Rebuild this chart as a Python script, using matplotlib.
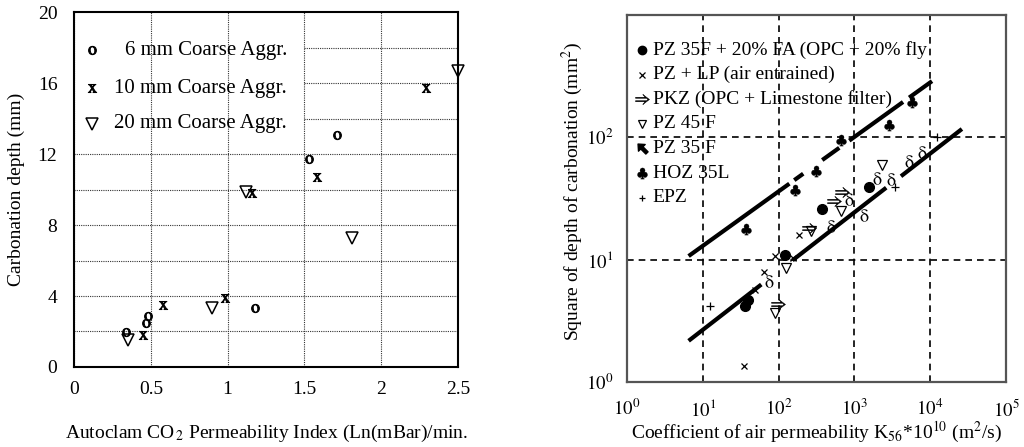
import numpy as np
import matplotlib
matplotlib.use("Agg")
import matplotlib.pyplot as plt
from matplotlib.path import Path

plt.rcParams['font.family'] = ['Liberation Serif', 'DejaVu Serif']
plt.rcParams['mathtext.fontset'] = 'stix'

# ---- left panel data (Autoclam index vs carbonation depth)
agg6_x = [0.34, 0.48, 0.47, 1.18, 1.53, 1.71]
agg6_y = [1.97, 2.9, 2.46, 3.3, 11.7, 13.1]
agg10_x = [0.45, 0.58, 0.98, 1.16, 1.58, 2.29]
agg10_y = [1.8, 3.5, 3.9, 9.8, 10.7, 15.7]
agg20_x = [0.35, 0.9, 1.12, 1.81, 2.5]
agg20_y = [1.52, 3.32, 9.86, 7.27, 16.7]
left_labels = ["6 mm Coarse Aggr.", "10 mm Coarse Aggr.", "20 mm Coarse Aggr."]

# ---- right panel data (air permeability vs square of carbonation depth)
fa_x = [1574, 379, 120, 39.1, 35.7]
fa_y = [39.2, 26.0, 10.9, 4.7, 4.15]
lp_x = [189, 153, 91, 63.5, 48.3, 34.6]
lp_y = [15.8, 10.3, 10.7, 7.9, 5.6, 1.34]
pkz_x = [695, 545, 256, 97]
pkz_y = [35.9, 30.3, 18.2, 4.33]
pz45_x = [2336, 675, 272, 127, 88.6]
pz45_y = [59, 25.1, 17.2, 8.5, 3.66]
pz35_x = [7850, 5290, 3070, 2010, 1355, 860, 498, 73.9]
pz35_y = [76, 64, 45.6, 46.4, 23.4, 31.3, 18.8, 6.7]
hoz_x = [5750, 2830, 668, 313, 167, 36.8]
hoz_y = [194, 126, 95, 53, 37, 17.8]
epz_x = [12400, 3460, 12.6]
epz_y = [100, 39.6, 4.15]
right_labels = ["PZ 35F + 20% FA (OPC + 20% fly", "PZ + LP (air entrained)",
                "PKZ (OPC + Limestone filter)", "PZ 45 F", "PZ 35 F", "HOZ 35L", "EPZ"]

# trend lines (end points)
upper_x = [6.5, 10600]
upper_y = [10.7, 288]
lower_x = [6.5, 26300]
lower_y = [2.17, 117]

fig = plt.figure(figsize=(10.24, 4.47), dpi=100)

# ================= left panel
ax1 = fig.add_axes([0.0723, 0.179, 0.375, 0.794])
ax1.set_xlim(0, 2.5)
ax1.set_ylim(0, 20)
ax1.set_xticks([0, 0.5, 1, 1.5, 2, 2.5])
ax1.set_xticklabels(["0", "0.5", "1", "1.5", "2", "2.5"])
ax1.set_yticks([0, 4, 8, 12, 16, 20])
ax1.tick_params(length=0, labelsize=14, pad=10)
ax1.tick_params(axis='y', pad=12)
ax1.grid(axis='x', color='#333333', linestyle=(0, (1, 1)), linewidth=0.8)
for yy in [2, 4, 6, 8, 10, 12]:
    ax1.axhline(yy, color='#333333', linestyle=(0, (1, 1)), linewidth=0.8, zorder=0.5)
for yy in [14, 16, 18]:
    ax1.axhline(yy, xmin=0.6, color='#333333', linestyle=(0, (1, 1)), linewidth=0.8, zorder=0.5)
for s in ax1.spines.values():
    s.set_linewidth(1.5)

left_series = [(agg6_x, agg6_y, dict(marker=r'$\mathrm{o}$', ms=6, color='black', mew=0.7)),
               (agg10_x, agg10_y, dict(marker=r'$\mathrm{x}$', ms=6, color='black', mew=0.7)),
               (agg20_x, agg20_y, dict(marker='v', ms=9, mfc='none', mec='black', mew=1.1))]
leg_y = [0.893, 0.786, 0.685]
for (xs, ys, st), lab, ly in zip(left_series, left_labels, leg_y):
    ax1.plot(xs, ys, linestyle='none', clip_on=False, **st)
    ax1.plot([0.047], [ly], linestyle='none', transform=ax1.transAxes, **st)
    ax1.text(0.555, ly, lab, transform=ax1.transAxes, ha='right', va='center', fontsize=15)

ax1.set_ylabel("Carbonation depth (mm)", fontsize=14)
ax1.yaxis.set_label_coords(-0.128, 0.5)
ax1.set_xlabel("Autoclam CO$_{\\,2}$ Permeability Index (Ln(mBar)/min.", fontsize=14, labelpad=18)

# ================= right panel
ax2 = fig.add_axes([0.6123, 0.1454, 0.370, 0.821])
ax2.set_xscale('log')
ax2.set_yscale('log')
ax2.set_xlim(1, 1e5)
ax2.set_ylim(1, 1000)
ax2.set_xticks([1, 10, 100, 1000, 1e4, 1e5])
ax2.set_xticklabels(["$10^{0}$", "$10^{1}$", "$10^{2}$", "$10^{3}$", "$10^{4}$", "$10^{5}$"])
ax2.set_yticks([1, 10, 100])
ax2.set_yticklabels(["$10^{0}$", "$10^{1}$", "$10^{2}$"])
ax2.minorticks_off()
ax2.tick_params(length=0, labelsize=13.5)
ax2.tick_params(axis='x', pad=12)
ax2.tick_params(axis='y', pad=10)
for xx in [10, 100, 1000, 1e4]:
    ax2.axvline(xx, color='black', linestyle=(0, (4, 3)), linewidth=1.2, zorder=0.5)
for yy in [10, 100]:
    ax2.axhline(yy, color='black', linestyle=(0, (4, 3)), linewidth=1.2, zorder=0.5)
for s in ax2.spines.values():
    s.set_linewidth(1.6)
    s.set_color('#555555')


def log_line(ax, xs, ys, pieces):
    lx0, lx1 = np.log10(xs)
    ly0, ly1 = np.log10(ys)
    for a, b in pieces:
        ax.plot(10 ** np.array([lx0 + a * (lx1 - lx0), lx0 + b * (lx1 - lx0)]),
                10 ** np.array([ly0 + a * (ly1 - ly0), ly0 + b * (ly1 - ly0)]),
                color='black', linewidth=3, solid_capstyle='butt')


log_line(ax2, upper_x, upper_y, [(0, 0.414), (0.434, 0.471), (0.549, 0.619), (0.66, 0.881), (0.906, 1)])
log_line(ax2, lower_x, lower_y, [(0, 0.266), (0.38, 0.723), (0.777, 1)])

# NW arrow for the legend entry of PZ 35 F
arrow = np.array([(0, 1), (0.75, 0.15), (0.25, 0.15), (0.25, -1), (-0.25, -1), (-0.25, 0.15), (-0.75, 0.15), (0, 1)])
th = np.deg2rad(45)
rot = np.array([[np.cos(th), -np.sin(th)], [np.sin(th), np.cos(th)]])
arrow_path = Path(arrow @ rot.T, closed=True)

right_series = [(fa_x, fa_y, dict(marker='o', ms=7, color='black')),
                (lp_x, lp_y, dict(marker='x', ms=4.5, mew=0.9, color='black')),
                (pkz_x, pkz_y, dict(marker=r'$\Rightarrow$', ms=10, color='black', mew=0.3)),
                (pz45_x, pz45_y, dict(marker='v', ms=7, mfc='none', mec='black', mew=0.9)),
                (pz35_x, pz35_y, dict(marker='$\\mathrm{\\delta}$', ms=9, color='black', mew=0)),
                (hoz_x, hoz_y, dict(marker=r'$\clubsuit$', ms=8, color='black', mew=0.3)),
                (epz_x, epz_y, dict(marker='+', ms=6, mew=0.9, color='black'))]
for i, ((xs, ys, st), lab) in enumerate(zip(right_series, right_labels)):
    ax2.plot(xs, ys, linestyle='none', **st)
    ly = (382 - (50 + 24.6 * i)) / 367
    lst = dict(st)
    if i == 4:
        lst = dict(marker=arrow_path, ms=8, color='black')
    if i in (1, 6):
        lst['ms'] = 4
    if i == 3:
        lst['ms'] = 5.5
    if i == 0:
        lst['ms'] = 6
    ax2.plot([0.04], [ly], linestyle='none', transform=ax2.transAxes, **lst)
    ax2.text(0.068, ly, lab, transform=ax2.transAxes, ha='left', va='center', fontsize=14)

ax2.set_ylabel("Square of depth of carbonation (mm$^{2}$)", fontsize=14)
ax2.yaxis.set_label_coords(-0.112, 0.52)
ax2.set_xlabel("Coefficient of air permeability K$_{56}$*10$^{10}$ (m$^{2}$/s)", fontsize=14, labelpad=0)

fig.savefig("out.png", dpi=100)
